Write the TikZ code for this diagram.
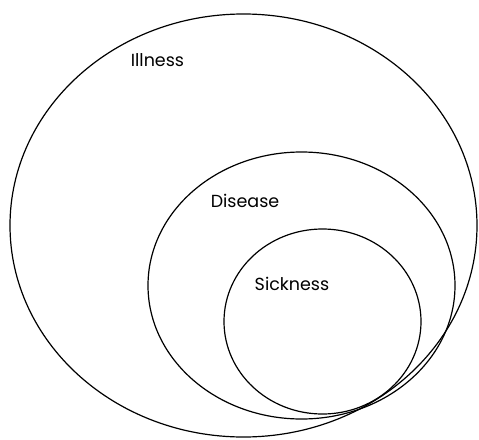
\documentclass[tikz,border=0pt]{standalone}
\usepackage{fontspec}
\setmainfont{Poppins}
\usetikzlibrary{shapes.geometric}
\begin{document}
\begin{tikzpicture}[x=1pt,y=-1pt,
  ring/.style={draw=black,line width=1.2pt,ellipse,inner sep=0pt},
  lab/.style={font=\fontsize{17.5}{20}\selectfont,inner sep=0pt}]
\useasboundingbox (0,0) rectangle (479,439);
\node[ring,minimum width=467pt,minimum height=423pt] (illness) at (243.5,225.5) {};
\node[ring,minimum width=307pt,minimum height=267pt] (disease) at (301.5,285.5) {};
\node[ring,minimum width=197pt,minimum height=185pt] (sickness) at (322.5,321.5) {};
\node[lab] (tIll) at (157.5,60) {Illness};
\node[lab] (tDis) at (245,201) {Disease};
\node[lab] (tSick) at (292,284) {Sickness};
\end{tikzpicture}
\end{document}
